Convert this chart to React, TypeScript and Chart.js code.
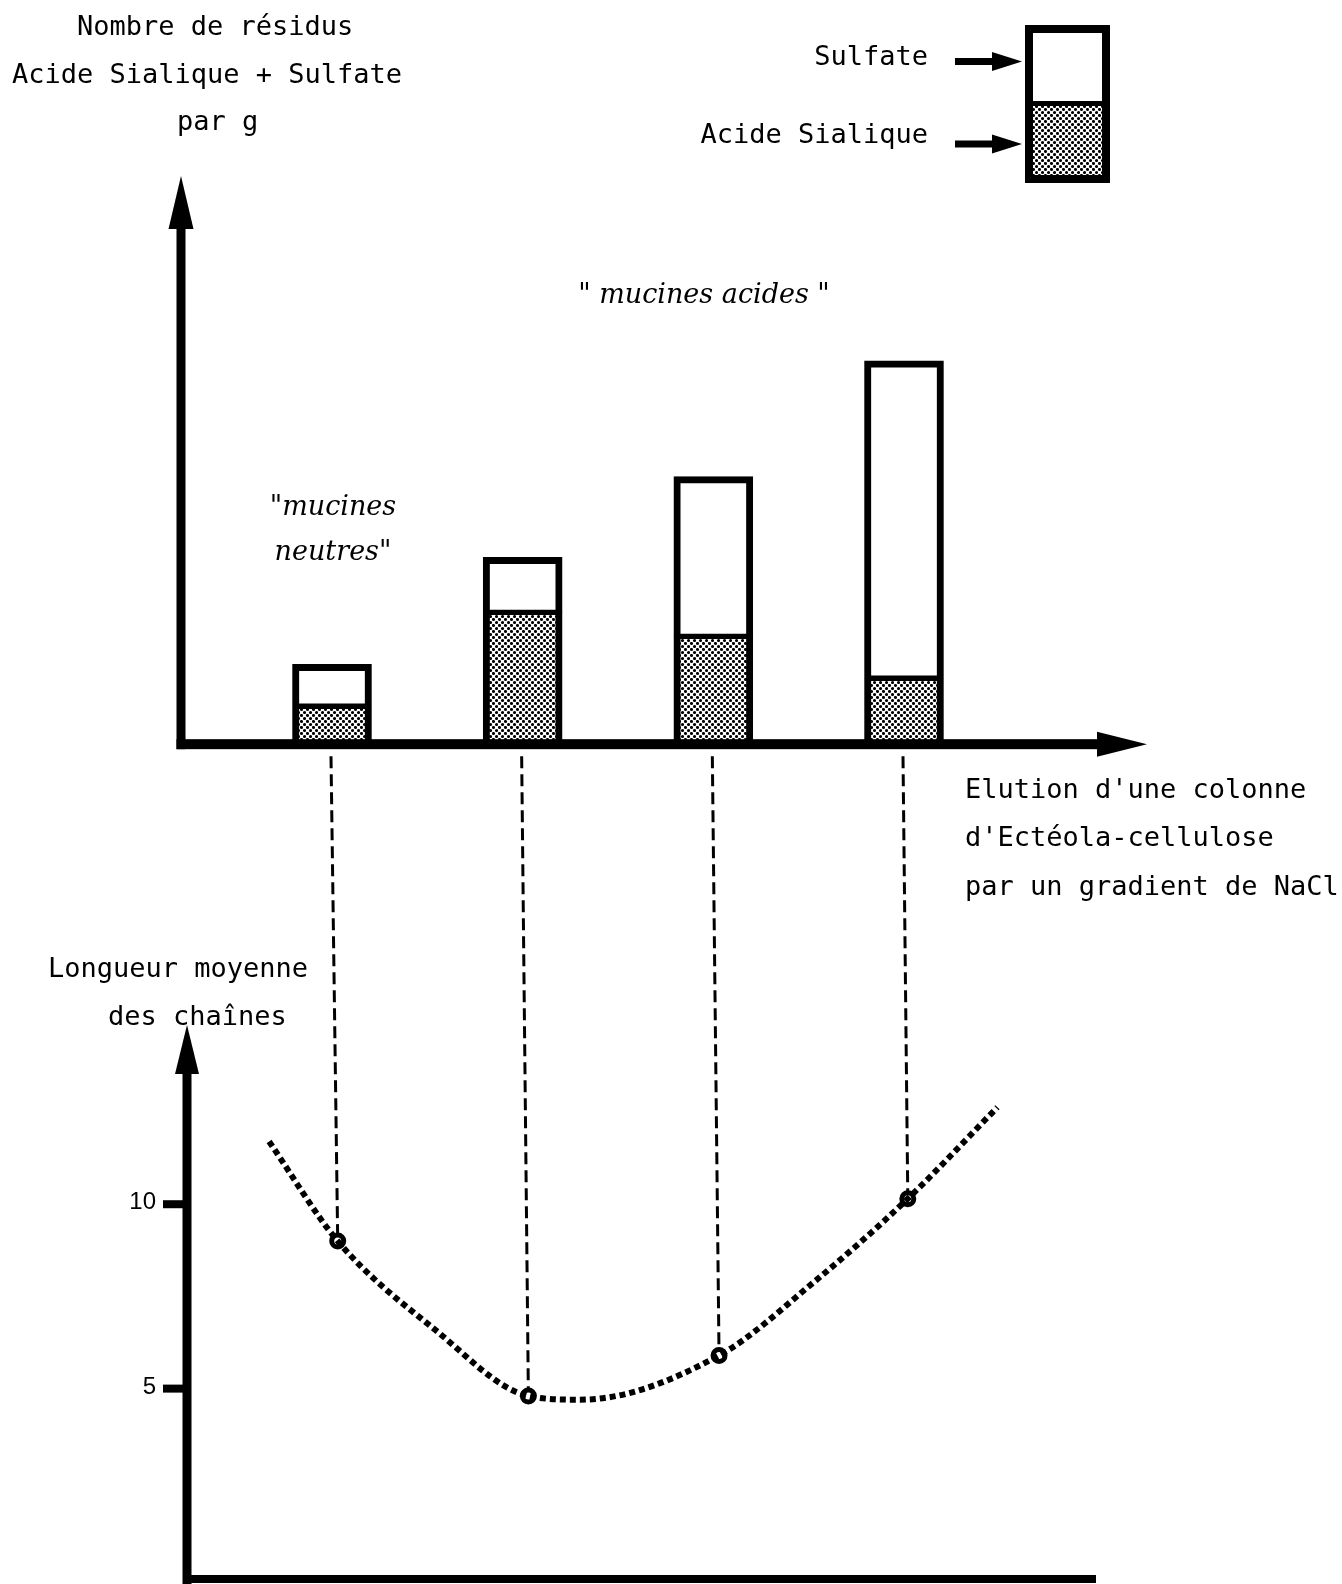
import React, { useEffect, useRef } from "react";
import { Chart, registerables } from "chart.js";

Chart.register(...registerables);

// ---- data ----
const fractions = [1, 2, 3, 4]; // successive fractions of the Ecteola-cellulose elution
const sialicAcid = [3.8, 13.2, 10.8, 6.6]; // arbitrary units (stippled part)
const sulfate = [4.2, 5.5, 16.0, 31.8]; // arbitrary units (white part)
const pointX = [1.03, 2.03, 3.03, 4.02];
const chainLength = [9.0, 4.8, 5.9, 10.15];
const curveX = [0.67, 1.03, 1.54, 2.03, 2.3, 3.03, 3.53, 4.02, 4.49];
const curveY = [11.7, 9.0, 6.6, 4.8, 4.7, 5.9, 7.9, 10.15, 12.63];
const yTicks = [5, 10];

const titleLines = ["Nombre de résidus", "Acide Sialique + Sulfate", "par g"];
const xAxisLines = ["Elution d'une colonne", "d'Ectéola-cellulose", "par un gradient de NaCl"];
const y2Lines = ["Longueur moyenne", "des chaînes"];
const legendLabels = ["Sulfate", "Acide Sialique"];

const MONO = "27px 'DejaVu Sans Mono'";

function makePattern(ctx: CanvasRenderingContext2D): CanvasPattern | string {
  const p = document.createElement("canvas");
  p.width = 6;
  p.height = 6;
  const pc = p.getContext("2d")!;
  pc.fillStyle = "#fff";
  pc.fillRect(0, 0, 6, 6);
  pc.fillStyle = "#000";
  pc.beginPath();
  pc.arc(1.5, 1.5, 1.55, 0, Math.PI * 2);
  pc.closePath();
  pc.moveTo(4.5, 4.5);
  pc.arc(4.5, 4.5, 1.55, 0, Math.PI * 2);
  pc.fill();
  return ctx.createPattern(p, "repeat") || "#999";
}

function tri(ctx: CanvasRenderingContext2D, pts: number[][]) {
  ctx.beginPath();
  ctx.moveTo(pts[0][0], pts[0][1]);
  for (let i = 1; i < pts.length; i++) ctx.lineTo(pts[i][0], pts[i][1]);
  ctx.closePath();
  ctx.fill();
}

export default function App() {
  const ref = useRef<HTMLCanvasElement | null>(null);

  useEffect(() => {
    document.body.style.margin = "0";
    document.body.style.overflow = "hidden";
    const canvas = ref.current!;
    const ctx0 = canvas.getContext("2d")!;
    const pattern = makePattern(ctx0);

    const decor = {
      id: "decor",
      beforeDatasetsDraw(chart: any) {
        const { ctx, scales } = chart;
        const x = scales.x, y = scales.y, y2 = scales.y2;
        ctx.save();
        ctx.strokeStyle = "#000";
        ctx.lineWidth = 3;
        ctx.setLineDash([12, 6]);
        fractions.forEach((f, i) => {
          ctx.beginPath();
          ctx.moveTo(x.getPixelForValue(f) - 1, y.getPixelForValue(0) + 12);
          ctx.lineTo(x.getPixelForValue(pointX[i]), y2.getPixelForValue(chainLength[i]));
          ctx.stroke();
        });
        ctx.restore();
      },
      afterDatasetsDraw(chart: any) {
        const { ctx, scales } = chart;
        const y = scales.y, y2 = scales.y2;
        ctx.save();
        ctx.fillStyle = "#000";
        // top chart axes
        const y0 = y.getPixelForValue(0);
        ctx.fillRect(176.5, 222, 9, y0 + 5 - 222);
        tri(ctx, [[181, 176], [168.5, 229], [193.5, 229]]);
        ctx.fillRect(176.5, y0 - 5, 1100 - 176.5, 10);
        tri(ctx, [[1147, y0], [1097, y0 - 12.5], [1097, y0 + 12.5]]);
        // bottom chart axes
        const b0 = y2.getPixelForValue(0);
        ctx.fillRect(182.5, 1068, 9, 1584 - 1068);
        tri(ctx, [[187, 1025], [175, 1074], [199, 1074]]);
        ctx.fillRect(183, b0 + 2, 1096 - 183, 8);
        // y2 ticks
        ctx.font = "24px 'Liberation Sans'";
        ctx.textAlign = "right";
        ctx.textBaseline = "alphabetic";
        yTicks.forEach((t) => {
          const py = y2.getPixelForValue(t);
          ctx.fillRect(163, py - 4, 22, 8);
          ctx.fillText(String(t), 156, py + 5);
        });
        ctx.restore();
      },
      afterDraw(chart: any) {
        const { ctx } = chart;
        ctx.save();
        ctx.fillStyle = "#000";
        ctx.font = MONO;
        ctx.textBaseline = "alphabetic";
        ctx.textAlign = "left";
        // title of top chart
        ctx.fillText(titleLines[0], 77, 35);
        ctx.fillText(titleLines[1], 12, 83);
        ctx.fillText(titleLines[2], 177, 130);
        // x axis label
        ctx.fillText(xAxisLines[0], 965, 798);
        ctx.fillText(xAxisLines[1], 965, 846);
        ctx.fillText(xAxisLines[2], 965, 895);
        // bottom y label
        ctx.fillText(y2Lines[0], 48, 977);
        ctx.fillText(y2Lines[1], 108, 1025);
        // legend
        ctx.textAlign = "right";
        ctx.fillText(legendLabels[0], 928, 65);
        ctx.fillText(legendLabels[1], 928, 143);
        [61.5, 144].forEach((cy) => {
          ctx.fillRect(955, cy - 3.5, 40, 7);
          tri(ctx, [[992, cy - 9.5], [1022, cy], [992, cy + 9.5]]);
        });
        ctx.fillStyle = pattern as any;
        ctx.fillRect(1025, 104, 85, 79);
        ctx.fillStyle = "#fff";
        ctx.fillRect(1029, 29, 77, 73);
        ctx.fillStyle = "#000";
        ctx.fillRect(1025, 101, 85, 5);
        ctx.strokeStyle = "#000";
        ctx.lineWidth = 8;
        ctx.strokeRect(1029, 29, 77, 150);
        // annotations
        ctx.font = "italic 27px 'DejaVu Serif'";
        ctx.textAlign = "center";
        ctx.fillText('" mucines acides "', 704, 303);
        ctx.fillText('"mucines', 333, 515);
        ctx.fillText('neutres"', 333, 560);
        ctx.restore();
      },
    };

    const chart = new Chart(canvas, {
      type: "bar",
      data: {
        datasets: [
          {
            type: "bar",
            label: legendLabels[1],
            data: fractions.map((f, i) => ({ x: f, y: sialicAcid[i] })),
            backgroundColor: pattern as any,
            borderColor: "#000",
            borderWidth: { top: 3, left: 7, right: 7, bottom: 0 },
            borderSkipped: false,
            barThickness: 79,
            yAxisID: "y",
          },
          {
            type: "bar",
            label: legendLabels[0],
            data: fractions.map((f, i) => ({ x: f, y: sulfate[i] })),
            backgroundColor: "#fff",
            borderColor: "#000",
            borderWidth: { top: 7, left: 7, right: 7, bottom: 3 },
            borderSkipped: false,
            barThickness: 79,
            yAxisID: "y",
          },
          {
            type: "line",
            label: "courbe",
            data: curveX.map((v, i) => ({ x: v, y: curveY[i] })),
            borderColor: "#000",
            borderWidth: 6,
            borderDash: [6, 4],
            borderCapStyle: "butt",
            pointRadius: 0,
            cubicInterpolationMode: "monotone",
            fill: false,
            yAxisID: "y2",
          },
          {
            type: "line",
            label: "Longueur moyenne des chaînes",
            data: pointX.map((v, i) => ({ x: v, y: chainLength[i] })),
            showLine: false,
            pointRadius: 6,
            pointBorderWidth: 5,
            pointBackgroundColor: "#fff",
            pointBorderColor: "#000",
            yAxisID: "y2",
          },
        ] as any,
      },
      options: {
        responsive: false,
        animation: false,
        events: [],
        devicePixelRatio: 1,
        layout: { padding: { left: 141.33, right: 56.67, top: 170, bottom: 9 } },
        plugins: { legend: { display: false }, tooltip: { enabled: false } },
        scales: {
          x: { type: "linear", min: 0, max: 6, display: false, stacked: true, offset: false },
          y: { display: false, min: -83, max: 57.5, stacked: true },
          y2: { display: false, min: 0, max: 38.045, position: "left" },
        },
      } as any,
      plugins: [decor],
    });
    return () => chart.destroy();
  }, []);

  return (
    <div style={{ position: "absolute", left: 0, top: 0, width: 1342, height: 1584, background: "#fff" }}>
      <canvas ref={ref} width={1342} height={1584} style={{ display: "block" }} />
    </div>
  );
}
